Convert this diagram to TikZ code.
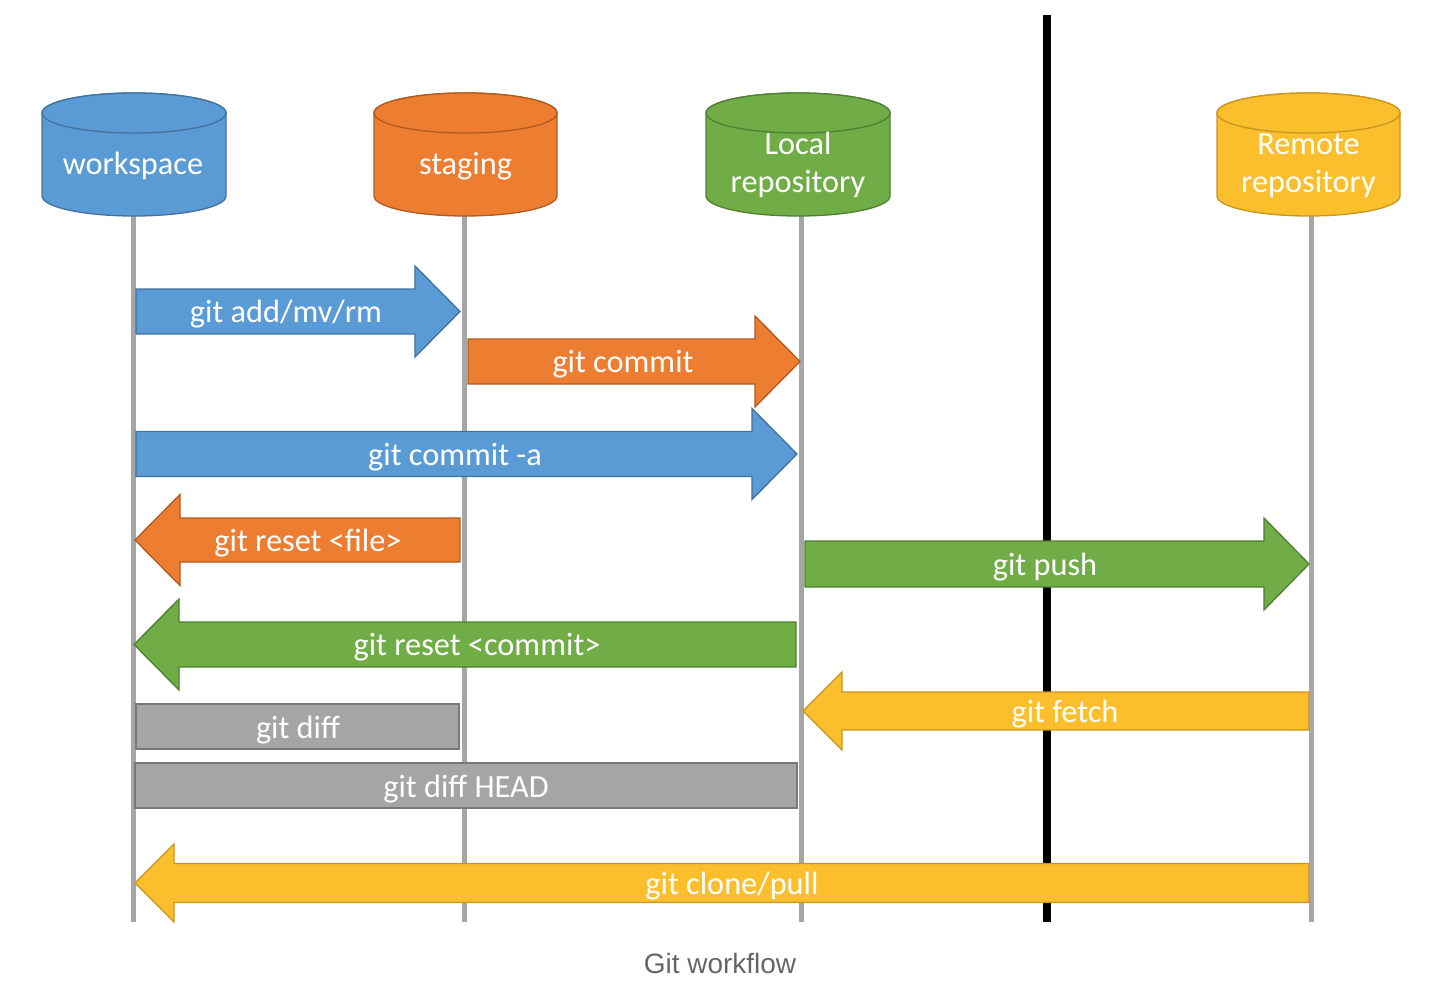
\documentclass[tikz,border=0pt]{standalone}
\usepackage{fontspec}
\setmainfont{Carlito}
\newfontfamily\captionfont{Liberation Sans}

\definecolor{wsfill}{HTML}{5B9BD5}\definecolor{wsline}{HTML}{41719C}
\definecolor{stfill}{HTML}{ED7D31}\definecolor{stline}{HTML}{AE5A21}
\definecolor{lrfill}{HTML}{70AD47}\definecolor{lrline}{HTML}{507E32}
\definecolor{rrfill}{HTML}{FBBF2D}\definecolor{rrline}{HTML}{C8961E}
\definecolor{dffill}{HTML}{A5A5A5}\definecolor{dfline}{HTML}{787878}
\definecolor{lifeline}{HTML}{A6A6A6}
\definecolor{captiongrey}{HTML}{666666}

% block arrow: #1 base x, #2 head-back x, #3 tip x, #4 centre y,
% #5 half shaft width, #6 half head width, #7 style
\newcommand\blockarrow[7]{%
  \draw[#7] (#1,{#4-#5}) -- (#2,{#4-#5}) -- (#2,{#4-#6}) -- (#3,#4)
    -- (#2,{#4+#6}) -- (#2,{#4+#5}) -- (#1,{#4+#5}) -- cycle;}

% cylinder: #1 centre x, #2 x radius, #3 style
\newcommand\storecyl[3]{%
  \draw[#3] ({#1-#2},113) -- ({#1-#2},196)
    arc[start angle=180,end angle=0,x radius=#2,y radius=20]
    -- ({#1+#2},113)
    arc[start angle=0,end angle=-180,x radius=#2,y radius=20] -- cycle;
  \draw[#3] (#1,113) ellipse[x radius=#2,y radius=20];}

\begin{document}
\begin{tikzpicture}[x=1pt,y=-1pt,
  every node/.style={font=\fontsize{32.3}{38}\selectfont, text=white, inner sep=0pt},
  lbl/.style={anchor=base},
  cyltext/.style={align=center, anchor=base},
  life/.style={line width=5pt, draw=lifeline},
  border/.style={line width=8pt, draw=black},
  wsstyle/.style={fill=wsfill, draw=wsline, line width=1.3pt, line join=miter},
  ststyle/.style={fill=stfill, draw=stline, line width=1.3pt, line join=miter},
  lrstyle/.style={fill=lrfill, draw=lrline, line width=1.3pt, line join=miter},
  rrstyle/.style={fill=rrfill, draw=rrline, line width=1.3pt, line join=miter},
  dfstyle/.style={fill=dffill, draw=dfline, line width=1.3pt},
]
\useasboundingbox (0,0) rectangle (1444,990);

% lifelines under each store
\coordinate (ws-top) at (133,216);  \coordinate (ws-end) at (133,922);
\coordinate (st-top) at (464,216);  \coordinate (st-end) at (464,922);
\coordinate (lr-top) at (801,216);  \coordinate (lr-end) at (801,922);
\coordinate (rr-top) at (1311,216); \coordinate (rr-end) at (1311,922);
\draw[life] (ws-top) -- (ws-end);
\draw[life] (st-top) -- (st-end);
\draw[life] (lr-top) -- (lr-end);
\draw[life] (rr-top) -- (rr-end);

% boundary between local and remote
\coordinate (sep-top) at (1047,15); \coordinate (sep-end) at (1047,922);
\draw[border] (sep-top) -- (sep-end);

% stores
\storecyl{134}{92}{wsstyle}
\storecyl{465.5}{91.5}{ststyle}
\storecyl{798}{92}{lrstyle}
\storecyl{1308.5}{91.5}{rrstyle}
\node[cyltext] (ws) at (133,174) {workspace};
\node[cyltext] (st) at (465.5,174) {staging};
\node[cyltext] (lr) at (798,192) {Local\\repository};
\node[cyltext] (rr) at (1308.5,192) {Remote\\repository};

% commands
\blockarrow{136}{415}{460}{311.5}{22.5}{45.5}{wsstyle}
\node[lbl] (add) at (286,322.5) {git add/mv/rm};

\blockarrow{468}{755}{800}{361.5}{22.5}{45.5}{ststyle}
\node[lbl] (commit) at (623,372.5) {git commit};

\blockarrow{136}{752}{797}{454}{22.5}{45.5}{wsstyle}
\node[lbl] (commita) at (455,465) {git commit -a};

\blockarrow{460}{180}{135}{540}{22}{45.5}{ststyle}
\node[lbl] (resetf) at (308,551) {git reset <file>};

\blockarrow{805}{1264}{1309}{564}{23}{46}{lrstyle}
\node[lbl] (push) at (1045,575) {git push};

\blockarrow{796}{179}{134}{644.5}{22.5}{45.5}{lrstyle}
\node[lbl] (resetc) at (477,655.5) {git reset <commit>};

\blockarrow{1309}{842}{803}{711}{19}{39}{rrstyle}
\node[lbl] (fetch) at (1065,722) {git fetch};

\draw[dfstyle] (136,704) rectangle (459,749);
\node[lbl] (diff) at (298,738) {git diff};

\draw[dfstyle] (135,763) rectangle (797,808);
\node[lbl] (diffh) at (466,797) {git diff HEAD};

\blockarrow{1309}{174}{135}{883}{19.5}{39}{rrstyle}
\node[lbl] (clone) at (732,894) {git clone/pull};

% caption
\node[anchor=base, text=captiongrey, font=\captionfont\fontsize{28}{32}\selectfont] (caption) at (720,973) {Git workflow};
\end{tikzpicture}
\end{document}
